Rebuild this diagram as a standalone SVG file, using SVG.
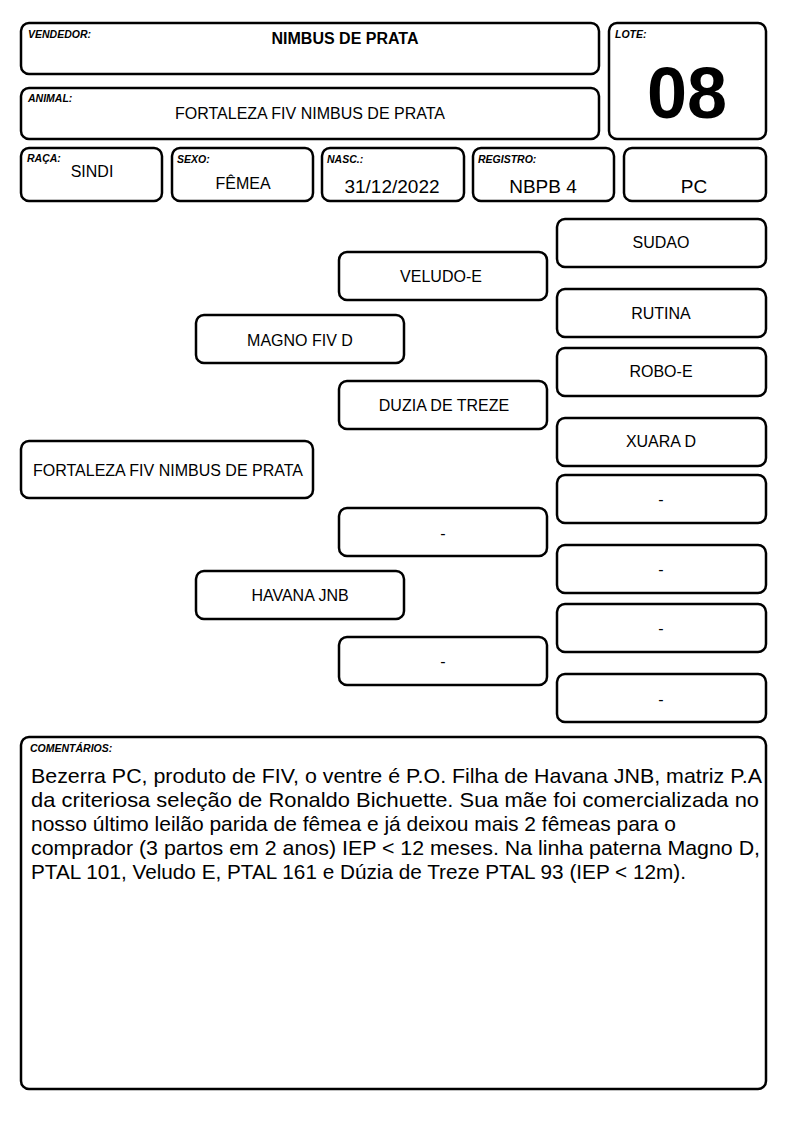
<svg xmlns="http://www.w3.org/2000/svg" width="794" height="1123" viewBox="0 0 794 1123">
<style>
.b{fill:#fff;stroke:#000;stroke-width:2.5}
.lbl{font-family:"Liberation Sans",Arial,sans-serif;font-size:10.5px;font-weight:bold;font-style:italic;fill:#000}
.t{font-family:"Liberation Sans",Arial,sans-serif;font-size:16px;fill:#000;text-anchor:middle}
.t17{font-family:"Liberation Sans",Arial,sans-serif;font-size:19px;fill:#000;text-anchor:middle}
.c{font-family:"Liberation Sans",Arial,sans-serif;font-size:21px;fill:#000}
</style>
<rect width="794" height="1123" fill="#fff"/>
<g id="vendedor"><rect class="b" x="21" y="23" width="578" height="51" rx="8"/><text class="lbl" x="28" y="38">VENDEDOR:</text><text class="t" x="345" y="44" font-weight="bold">NIMBUS DE PRATA</text></g>
<g id="animal"><rect class="b" x="21" y="88" width="578" height="51" rx="8"/><text class="lbl" x="28" y="102">ANIMAL:</text><text class="t" x="310" y="119">FORTALEZA FIV NIMBUS DE PRATA</text></g>
<g id="lote"><rect class="b" x="609" y="23" width="157" height="116" rx="8"/><text class="lbl" x="615" y="38">LOTE:</text><text x="687" y="118" font-family="Liberation Sans,Arial,sans-serif" font-size="72" font-weight="bold" text-anchor="middle">08</text></g>
<g id="raca"><rect class="b" x="21" y="148" width="141" height="53" rx="8"/><text class="lbl" x="27" y="162">RAÇA:</text><text class="t" x="92" y="177" font-size="14">SINDI</text></g>
<g id="sexo"><rect class="b" x="172" y="148" width="141" height="53" rx="8"/><text class="lbl" x="177" y="163">SEXO:</text><text class="t" x="243" y="189" font-size="14">FÊMEA</text></g>
<g id="nasc"><rect class="b" x="322" y="148" width="142" height="53" rx="8"/><text class="lbl" x="327" y="163">NASC.:</text><text class="t17" x="392" y="193">31/12/2022</text></g>
<g id="registro"><rect class="b" x="473" y="148" width="141" height="53" rx="8"/><text class="lbl" x="478" y="163">REGISTRO:</text><text class="t17" x="543" y="193">NBPB 4</text></g>
<g id="pc"><rect class="b" x="624" y="148" width="142" height="53" rx="8"/><text class="t17" x="694" y="193">PC</text></g>
<g id="connectors"></g>
<g id="sudao"><rect class="b" x="557" y="219" width="209" height="48" rx="8"/><text class="t" x="661" y="248">SUDAO</text></g>
<g id="veludo"><rect class="b" x="339" y="252" width="208" height="48" rx="8"/><text class="t" x="441" y="282">VELUDO-E</text></g>
<g id="rutina"><rect class="b" x="557" y="289" width="209" height="48" rx="8"/><text class="t" x="661" y="319">RUTINA</text></g>
<g id="magno"><rect class="b" x="196" y="315" width="208" height="48" rx="8"/><text class="t" x="300" y="346">MAGNO FIV D</text></g>
<g id="robo"><rect class="b" x="557" y="348" width="209" height="48" rx="8"/><text class="t" x="661" y="377">ROBO-E</text></g>
<g id="duzia"><rect class="b" x="339" y="381" width="208" height="48" rx="8"/><text class="t" x="444" y="411">DUZIA DE TREZE</text></g>
<g id="xuara"><rect class="b" x="557" y="418" width="209" height="48" rx="8"/><text class="t" x="661" y="447">XUARA D</text></g>
<g id="fortaleza"><rect class="b" x="21" y="441" width="292" height="57" rx="8"/><text class="t" x="168" y="476">FORTALEZA FIV NIMBUS DE PRATA</text></g>
<g id="mm1"><rect class="b" x="557" y="475" width="209" height="48" rx="8"/><text class="t" x="661" y="505">-</text></g>
<g id="m2"><rect class="b" x="339" y="508" width="208" height="48" rx="8"/><text class="t" x="443" y="539">-</text></g>
<g id="mm2"><rect class="b" x="557" y="545" width="209" height="48" rx="8"/><text class="t" x="661" y="575">-</text></g>
<g id="havana"><rect class="b" x="196" y="571" width="208" height="48" rx="8"/><text class="t" x="300" y="601">HAVANA JNB</text></g>
<g id="mm3"><rect class="b" x="557" y="604" width="209" height="48" rx="8"/><text class="t" x="661" y="634">-</text></g>
<g id="m3"><rect class="b" x="339" y="637" width="208" height="48" rx="8"/><text class="t" x="443" y="667">-</text></g>
<g id="mm4"><rect class="b" x="557" y="674" width="209" height="48" rx="8"/><text class="t" x="661" y="705">-</text></g>
<g id="comentarios"><rect class="b" x="21" y="737" width="745" height="352" rx="8"/><text class="lbl" x="30" y="752">COMENTÁRIOS:</text>
<text class="c" x="31" y="783" textLength="731" lengthAdjust="spacingAndGlyphs">Bezerra PC, produto de FIV, o ventre é P.O. Filha de Havana JNB, matriz P.A</text>
<text class="c" x="31" y="807" textLength="728" lengthAdjust="spacingAndGlyphs">da criteriosa seleção de Ronaldo Bichuette. Sua mãe foi comercializada no</text>
<text class="c" x="31" y="831" textLength="645" lengthAdjust="spacingAndGlyphs">nosso último leilão parida de fêmea e já deixou mais 2 fêmeas para o</text>
<text class="c" x="31" y="855" textLength="729" lengthAdjust="spacingAndGlyphs">comprador (3 partos em 2 anos) IEP &lt; 12 meses. Na linha paterna Magno D,</text>
<text class="c" x="31" y="879" textLength="655" lengthAdjust="spacingAndGlyphs">PTAL 101, Veludo E, PTAL 161 e Dúzia de Treze PTAL 93 (IEP &lt; 12m).</text>
</g>
</svg>
